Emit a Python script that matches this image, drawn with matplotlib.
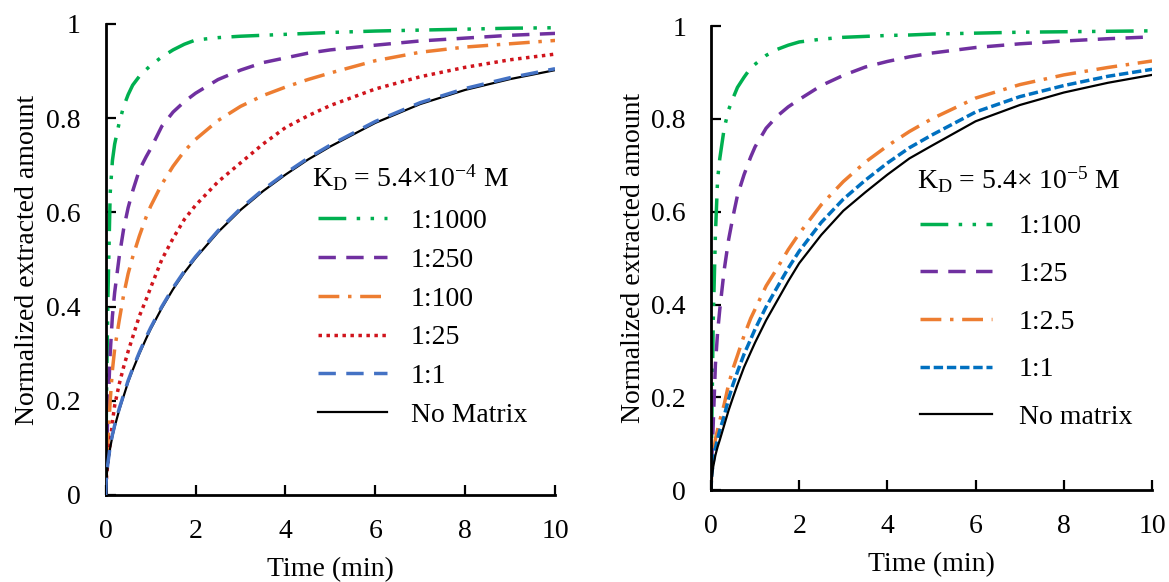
import matplotlib
matplotlib.use('Agg')
import matplotlib.pyplot as plt
from matplotlib.ticker import FuncFormatter

plt.rcParams['font.family'] = ['Liberation Serif', 'DejaVu Serif']
plt.rcParams['mathtext.fontset'] = 'custom'
plt.rcParams['mathtext.rm'] = 'Liberation Serif'
plt.rcParams['mathtext.it'] = 'Liberation Serif:italic'

# time points (min), shared by all curves
time = [0, 0.01, 0.02, 0.05, 0.1, 0.15, 0.2, 0.3, 0.4, 0.5, 0.6, 0.75, 0.9, 1, 1.25, 1.5, 1.75,
        2, 2.5, 3, 3.5, 4, 4.5, 5, 6, 7, 8, 9, 10]

# left panel, KD = 5.4e-4 M
left_1000 = [0, 0.12, 0.22, 0.42, 0.64, 0.71, 0.745, 0.79, 0.825, 0.85, 0.87, 0.889, 0.903, 0.912, 0.93,
             0.945, 0.957, 0.966, 0.971, 0.974, 0.976, 0.978, 0.98, 0.982, 0.985, 0.987, 0.989, 0.991, 0.992]
left_250 = [0, 0.05, 0.09, 0.18, 0.30, 0.38, 0.43, 0.505, 0.565, 0.61, 0.645, 0.69, 0.718, 0.735, 0.783,
            0.813, 0.835, 0.853, 0.882, 0.902, 0.918, 0.928, 0.938, 0.945, 0.955, 0.964, 0.97, 0.976, 0.98]
left_100 = [0, 0.03, 0.05, 0.11, 0.20, 0.265, 0.31, 0.37, 0.425, 0.47, 0.505, 0.55, 0.59, 0.613, 0.66,
            0.698, 0.73, 0.755, 0.795, 0.825, 0.848, 0.866, 0.882, 0.896, 0.922, 0.94, 0.951, 0.958, 0.965]
left_25 = [0, 0.02, 0.04, 0.07, 0.11, 0.155, 0.19, 0.235, 0.272, 0.305, 0.335, 0.38, 0.415, 0.44, 0.50,
           0.545, 0.585, 0.615, 0.665, 0.705, 0.745, 0.78, 0.805, 0.827, 0.862, 0.888, 0.908, 0.924, 0.936]
left_1 = [0, 0.027, 0.043, 0.068, 0.103, 0.128, 0.148, 0.183, 0.213, 0.243, 0.268, 0.303, 0.335, 0.355, 0.4,
          0.44, 0.475, 0.506, 0.561, 0.608, 0.648, 0.683, 0.715, 0.743, 0.793, 0.833, 0.863, 0.886, 0.905]
left_none = [0, 0.025, 0.04, 0.065, 0.10, 0.125, 0.145, 0.18, 0.21, 0.24, 0.265, 0.30, 0.332, 0.352, 0.397,
             0.437, 0.472, 0.503, 0.558, 0.605, 0.645, 0.68, 0.712, 0.74, 0.79, 0.83, 0.86, 0.883, 0.902]

# right panel, KD = 5.4e-5 M
right_100 = [0, 0.08, 0.15, 0.36, 0.55, 0.67, 0.715, 0.78, 0.82, 0.845, 0.868, 0.89, 0.91, 0.918, 0.937,
             0.95, 0.959, 0.966, 0.972, 0.976, 0.978, 0.98, 0.981, 0.983, 0.985, 0.987, 0.988, 0.989, 0.99]
right_25 = [0, 0.04, 0.07, 0.14, 0.27, 0.34, 0.39, 0.475, 0.54, 0.59, 0.635, 0.68, 0.718, 0.74, 0.78,
            0.806, 0.826, 0.842, 0.872, 0.894, 0.912, 0.924, 0.934, 0.942, 0.954, 0.962, 0.968, 0.973, 0.977]
right_2_5 = [0, 0.025, 0.045, 0.075, 0.11, 0.13, 0.15, 0.185, 0.228, 0.262, 0.29, 0.333, 0.37, 0.39, 0.44,
             0.478, 0.518, 0.553, 0.615, 0.665, 0.707, 0.742, 0.773, 0.80, 0.845, 0.874, 0.895, 0.911, 0.925]
right_1 = [0, 0.02, 0.035, 0.06, 0.09, 0.11, 0.129, 0.16, 0.197, 0.228, 0.255, 0.293, 0.325, 0.347, 0.395,
           0.437, 0.478, 0.515, 0.577, 0.627, 0.668, 0.705, 0.738, 0.765, 0.815, 0.848, 0.872, 0.892, 0.907]
right_none = [0, 0.015, 0.028, 0.05, 0.075, 0.093, 0.108, 0.14, 0.172, 0.20, 0.227, 0.265, 0.297, 0.318, 0.366,
              0.408, 0.45, 0.489, 0.55, 0.602, 0.642, 0.68, 0.715, 0.742, 0.795, 0.83, 0.857, 0.878, 0.895]

left_labels = ['1:1000', '1:250', '1:100', '1:25', '1:1', 'No Matrix']
right_labels = ['1:100', '1:25', '1:2.5', '1:1', 'No matrix']
left_title = r'K$_\mathrm{D}$ = 5.4×10$^{-4}$ M'
right_title = r'K$_\mathrm{D}$ = 5.4× 10$^{-5}$ M'

green = '#00B050'
purple = '#7030A0'
orange = '#ED7D31'
red = '#D0141C'
blue_l = '#4472C4'
blue_r = '#0070C0'

fig = plt.figure(figsize=(11.69, 5.82), dpi=100)
ax1 = fig.add_axes([0.0904, 0.1495, 0.3844, 0.8093])
ax2 = fig.add_axes([0.6082, 0.158, 0.3773, 0.797])

lw = 2.5


def style_axes(ax):
    ax.set_xlim(0, 10)
    ax.set_ylim(0, 1)
    ax.set_xticks([0, 2, 4, 6, 8, 10])
    ax.set_yticks([0, 0.2, 0.4, 0.6, 0.8, 1])
    ax.yaxis.set_major_formatter(FuncFormatter(lambda v, p: f'{v:g}'))
    for s in ['top', 'right']:
        ax.spines[s].set_visible(False)
    for s in ['left', 'bottom']:
        ax.spines[s].set_linewidth(2)
    ax.tick_params(direction='in', length=7, width=1.6, labelsize=20)
    ax.tick_params(axis='y', pad=18)
    ax.tick_params(axis='x', pad=17)
    ax.set_xlabel('Time (min)', fontsize=20, labelpad=10)
    ax.set_ylabel('Normalized extracted amount', fontsize=20, labelpad=4)


# left panel
h = []
h.append(ax1.plot(time, left_1000, color=green, lw=lw, dashes=(8, 3, 1, 3, 1, 3))[0])
h.append(ax1.plot(time, left_250, color=purple, lw=lw, dashes=(5, 3))[0])
h.append(ax1.plot(time, left_100, color=orange, lw=lw, dashes=(6, 2.5, 1, 2.5))[0])
h.append(ax1.plot(time, left_25, color=red, lw=lw, dashes=(1, 1.3))[0])
l_none = ax1.plot(time, left_none, color='black', lw=1.6, zorder=2)[0]
h.append(ax1.plot(time, left_1, color=blue_l, lw=lw, dashes=(5, 3), zorder=3)[0])
h.append(l_none)
style_axes(ax1)
ax1.text(0.4585, 0.6546, left_title, transform=ax1.transAxes, fontsize=20, ha='left', va='baseline')
ax1.legend(h, left_labels, loc='upper left', bbox_to_anchor=(0.4725, 0.608),
           frameon=False, fontsize=20, handlelength=2.5, handletextpad=0.85,
           labelspacing=0.48, borderpad=0, borderaxespad=0)

# right panel
h = []
h.append(ax2.plot(time, right_100, color=green, lw=lw, dashes=(8, 3, 1, 3, 1, 3))[0])
h.append(ax2.plot(time, right_25, color=purple, lw=lw, dashes=(5, 3))[0])
h.append(ax2.plot(time, right_2_5, color=orange, lw=lw, dashes=(6, 2.5, 1, 2.5))[0])
h.append(ax2.plot(time, right_1, color=blue_r, lw=lw, dashes=(2.7, 1.1))[0])
h.append(ax2.plot(time, right_none, color='black', lw=1.6)[0])
style_axes(ax2)
ax2.text(0.466, 0.650, right_title, transform=ax2.transAxes, fontsize=20, ha='left', va='baseline')
ax2.legend(h, right_labels, loc='upper left', bbox_to_anchor=(0.474, 0.595),
           frameon=False, fontsize=20, handlelength=2.6, handletextpad=0.96,
           labelspacing=0.8, borderpad=0, borderaxespad=0)

plt.savefig('out.png', dpi=100)
